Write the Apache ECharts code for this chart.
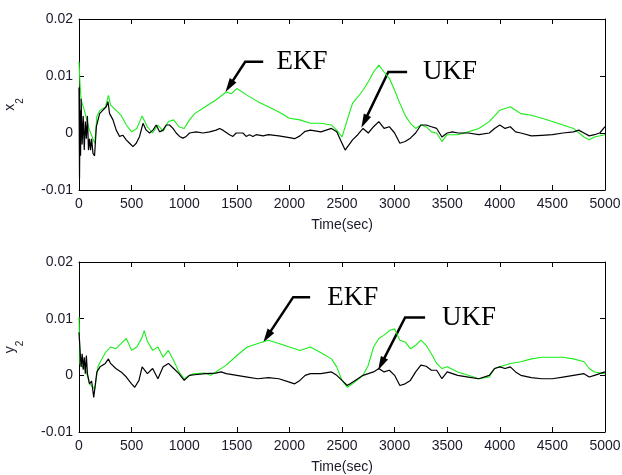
<!DOCTYPE html>
<html>
<head>
<meta charset="utf-8">
<script src="https://cdn.jsdelivr.net/npm/echarts@6/dist/echarts.min.js"></script>
<style>
  html, body { margin: 0; padding: 0; background: #fff; }
  #main { width: 622px; height: 475px; }
</style>
</head>
<body>
<div id="main"></div>
<script>
// 轴刻度
var timeTicks = { min: 0, max: 5000, interval: 500 };
var errTicks = { min: -0.01, max: 0.02, interval: 0.01 };

// x2 误差 [t, value]
var ekfX2 = [[0,0.0125],[10,0.0085],[20,0.0058],[50,0.0040],[100,0.0005],[150,-0.0018],[170,0.0030],[200,0.0040],[250,0.0045],[280,0.0066],
  [300,0.0049],[350,0.0040],[400,0.0031],[450,0.0014],[500,0.0002],[550,0.0008],[600,0.0030],[650,0.0011],[700,0.0000],[750,0.0014],
  [800,0.0003],[850,0.0020],[900,0.0023],[950,0.0011],[1000,0.0008],[1050,0.0023],[1100,0.0034],[1200,0.0046],[1300,0.0058],[1400,0.0072],
  [1450,0.0069],[1500,0.0078],[1600,0.0066],[1700,0.0055],[1800,0.0046],[1900,0.0037],[2000,0.0026],[2100,0.0023],[2200,0.0017],[2300,0.0017],
  [2400,0.0014],[2450,0.0005],[2500,-0.0007],[2550,0.0023],[2600,0.0052],[2700,0.0075],[2750,0.0090],[2800,0.0107],[2850,0.0119],[2900,0.0107],
  [2950,0.0096],[3000,0.0075],[3050,0.0052],[3100,0.0031],[3150,0.0017],[3200,0.0008],[3250,0.0014],[3300,0.0011],[3350,0.0002],[3400,0.0000],
  [3450,-0.0015],[3500,-0.0003],[3600,-0.0003],[3700,0.0002],[3800,0.0008],[3900,0.0020],[4000,0.0040],[4100,0.0046],[4150,0.0040],[4200,0.0034],
  [4300,0.0031],[4400,0.0026],[4500,0.0020],[4600,0.0014],[4700,0.0008],[4800,-0.0007],[4850,-0.0012],[4900,-0.0007],[5000,-0.0003]];

var ukfX2 = [[0,0.008],[5,-0.008],[10,0.004],[15,-0.004],[20,0.006],[30,-0.002],[40,0.003],[50,-0.003],[60,0.002],[70,-0.001],
  [80,0.003],[90,-0.003],[100,-0.001],[110,-0.003],[120,-0.001],[133,-0.0036],[148,-0.004],[165,0.0011],[196,0.0034],[228,0.004],
  [259,0.0046],[275,0.0055],[291,0.0034],[323,0.0023],[354,0.0005],[386,-0.0006],[418,-0.0004],[449,-0.0012],[481,-0.0018],[513,-0.0024],
  [544,-0.0018],[576,-0.0006],[608,0.0017],[639,0.0005],[671,0.0],[703,0.0005],[734,0.0014],[766,0.0002],[798,0.0005],[829,0.0014],
  [861,0.0014],[893,0.0008],[924,0.0],[956,-0.0006],[988,-0.0009],[1019,-0.0006],[1051,0.0],[1114,0.0002],[1178,0.0],[1241,0.0002],
  [1304,0.0005],[1336,0.0008],[1368,0.0005],[1431,-0.0003],[1463,-0.0006],[1494,0.0],[1558,0.0],[1589,-0.0006],[1621,-0.0003],[1653,-0.0006],
  [1684,-0.0003],[1750,-0.0005],[1800,-0.0003],[1900,-0.0005],[2000,-0.0008],[2050,-0.001],[2100,-0.0005],[2150,0.0003],[2200,0.0005],[2300,0.0002],
  [2400,0.0008],[2450,0.0002],[2500,-0.0018],[2530,-0.003],[2600,-0.0012],[2650,-0.0003],[2700,0.0008],[2750,0.0],[2800,0.0011],[2850,0.002],
  [2900,0.0008],[2950,0.0011],[3000,0.0],[3050,-0.0018],[3100,-0.0015],[3150,-0.0009],[3200,0.0],[3250,0.0014],[3300,0.0014],[3350,0.0011],
  [3400,0.0008],[3450,-0.0007],[3500,0.0],[3550,0.0002],[3600,0.0],[3700,0.0],[3800,-0.0003],[3900,0.0],[3950,0.0008],[4000,0.0014],
  [4050,0.0008],[4100,0.0011],[4150,0.0002],[4200,0.0],[4300,-0.0005],[4400,-0.0004],[4500,-0.0003],[4600,0.0],[4700,0.0002],[4750,0.0005],
  [4800,0.0],[4850,-0.0005],[4900,-0.0003],[4950,0.0],[5000,0.0011]];

// y2 误差 [t, value]
var ekfY2 = [[0,0.0103],[10,0.002],[30,0.0015],[60,0.0012],[100,-0.0015],[150,-0.0024],[180,0.0015],[200,0.0023],[250,0.004],[300,0.005],
  [350,0.0047],[400,0.0056],[450,0.0065],[500,0.0044],[550,0.005],[600,0.0067],[620,0.0079],[650,0.006],[700,0.0044],[750,0.005],
  [800,0.0032],[850,0.0044],[900,0.0026],[950,0.0006],[1000,-0.0006],[1050,0.0],[1100,0.0003],[1200,0.0004],[1250,0.0],[1300,0.0006],
  [1400,0.0018],[1500,0.0035],[1600,0.005],[1700,0.0056],[1800,0.0062],[1900,0.0056],[2000,0.005],[2100,0.0044],[2200,0.005],[2300,0.004],
  [2400,0.0029],[2450,0.0015],[2500,-0.0009],[2550,-0.0021],[2600,-0.0015],[2700,0.0],[2750,0.0018],[2800,0.005],[2850,0.0065],[2900,0.0071],
  [2950,0.0079],[3000,0.0082],[3050,0.0062],[3100,0.0059],[3150,0.0047],[3200,0.0053],[3250,0.0062],[3300,0.0053],[3350,0.0038],[3400,0.0021],
  [3450,0.0012],[3500,0.0015],[3600,0.0006],[3700,0.0],[3800,-0.0006],[3900,-0.0003],[3950,0.0012],[4000,0.0015],[4100,0.0021],[4200,0.0024],
  [4300,0.0029],[4400,0.0032],[4500,0.0032],[4600,0.0032],[4700,0.0029],[4800,0.0024],[4850,0.0012],[4900,0.0006],[5000,0.0003]];

var ukfY2 = [[0,0.0076],[10,0.0044],[20,0.0015],[30,0.0038],[40,0.001],[50,0.0032],[60,0.0003],[70,0.0035],[80,0.0003],[100,-0.0015],
  [120,-0.001],[140,-0.0039],[150,-0.0024],[170,0.0006],[200,0.0015],[250,0.0021],[280,0.0029],[300,0.0021],[350,0.0012],[400,0.0006],
  [450,-0.0003],[500,-0.0015],[530,-0.0021],[570,-0.0009],[600,0.0015],[650,0.0003],[700,0.0012],[750,-0.0006],[800,0.0015],[850,0.0021],
  [900,0.0012],[950,0.0003],[1000,-0.0009],[1050,0.0],[1100,0.0001],[1200,0.0003],[1300,0.0004],[1350,0.0006],[1400,0.0003],[1500,0.0],
  [1600,-0.0003],[1700,-0.0006],[1800,-0.0004],[1900,-0.0006],[2000,-0.0012],[2050,-0.0015],[2100,-0.0009],[2150,0.0],[2200,0.0003],[2300,0.0003],
  [2400,0.0006],[2450,0.0],[2500,-0.0009],[2550,-0.0018],[2600,-0.0012],[2700,0.0],[2750,0.0003],[2800,0.0006],[2850,0.0012],[2900,0.0006],
  [2950,0.0009],[3000,0.0],[3050,-0.0018],[3100,-0.0015],[3150,-0.0009],[3200,0.0006],[3250,0.0018],[3300,0.0016],[3350,0.0009],[3400,0.0009],
  [3450,-0.0006],[3500,0.0006],[3550,0.0003],[3600,0.0],[3700,-0.0003],[3800,-0.0006],[3900,0.0],[3950,0.0012],[4000,0.0015],[4050,0.0012],
  [4100,0.0015],[4150,0.0006],[4200,0.0],[4300,-0.0004],[4400,-0.0006],[4500,-0.0006],[4600,-0.0003],[4700,0.0],[4800,0.0003],[4850,-0.0003],
  [4900,0.0],[5000,0.0006]];

// 箭头标注: 箭头尖, 拐点, 横线终点, 文字位置 (数据坐标)
var notes = [
  { grid: 0, text: 'EKF', tip: [1392, 0.0072], elbow: [1580, 0.0125], end: [1751, 0.0125], label: [1877, 0.0125] },
  { grid: 0, text: 'UKF', tip: [2684, 0.0009], elbow: [2940, 0.0107], end: [3119, 0.0107], label: [3271, 0.0107] },
  { grid: 1, text: 'EKF', tip: [1751, 0.0058], elbow: [2036, 0.0138], end: [2197, 0.0138], label: [2359, 0.0136] },
  { grid: 1, text: 'UKF', tip: [2843, 0.0009], elbow: [3100, 0.0102], end: [3290, 0.0102], label: [3451, 0.0101] }
];

var axisFont = 'Arial, "Liberation Sans", sans-serif';
var textColor = '#1a1a2a';

function timeAxis(gridIndex, top){
    var ax = {
        type: 'value', gridIndex: gridIndex,
        min: timeTicks.min, max: timeTicks.max, interval: timeTicks.interval,
        position: top ? 'top' : 'bottom',
        axisLine: { show: true, onZero: false, lineStyle: { color: '#000', width: 1 } },
        axisTick: { show: true, inside: true, length: 5, lineStyle: { color: '#000' } },
        axisLabel: {
            show: !top, margin: 7, color: textColor, fontSize: 14, fontFamily: axisFont,
            formatter: function(v){ return String(v); }
        },
        splitLine: { show: false }
    };
    if(!top){
        ax.name = 'Time(sec)';
        ax.nameLocation = 'middle';
        ax.nameGap = 28;
        ax.nameTextStyle = { color: textColor, fontSize: 14, fontFamily: axisFont };
    }
    return ax;
}

function errAxis(gridIndex, right, sym){
    var ax = {
        type: 'value', gridIndex: gridIndex,
        min: errTicks.min, max: errTicks.max, interval: errTicks.interval,
        position: right ? 'right' : 'left',
        axisLine: { show: true, onZero: false, lineStyle: { color: '#000', width: 1 } },
        axisTick: { show: true, inside: true, length: 5, lineStyle: { color: '#000' } },
        axisLabel: {
            show: !right, margin: 6, color: textColor, fontSize: 14, fontFamily: axisFont,
            formatter: function(v){ return String(Math.round(v * 1000) / 1000); }
        },
        splitLine: { show: false }
    };
    if(!right){
        ax.name = '{a|' + sym + '}{s|2}';
        ax.nameLocation = 'middle';
        ax.nameGap = 54;
        ax.nameTextStyle = {
            color: textColor, fontFamily: axisFont,
            rich: {
                a: { fontSize: 14, color: textColor, fontFamily: axisFont, verticalAlign: 'top', lineHeight: 16 },
                s: { fontSize: 10, color: textColor, fontFamily: axisFont, verticalAlign: 'bottom', lineHeight: 22 }
            }
        };
    }
    return ax;
}

function lineSeries(name, data, xi, yi, color, width){
    return {
        name: name, type: 'line', data: data,
        xAxisIndex: xi, yAxisIndex: yi,
        showSymbol: false, symbol: 'none', animation: false,
        lineStyle: { color: color, width: width }
    };
}

var chart = echarts.init(document.getElementById('main'), null, { renderer: 'canvas' });
chart.setOption({
    backgroundColor: '#fff',
    animation: false,
    grid: [
        { left: 79, right: 17, top: 19, height: 171, outerBoundsMode: 'none', containLabel: false },
        { left: 79, right: 17, top: 262, height: 170, outerBoundsMode: 'none', containLabel: false }
    ],
    xAxis: [timeAxis(0, false), timeAxis(0, true), timeAxis(1, false), timeAxis(1, true)],
    yAxis: [errAxis(0, false, 'x'), errAxis(0, true), errAxis(1, false, 'y'), errAxis(1, true)],
    series: [
        lineSeries('EKF', ekfX2, 0, 0, '#1aee1a', 1.1),
        lineSeries('UKF', ukfX2, 0, 0, '#000', 1.2),
        lineSeries('EKF', ekfY2, 2, 2, '#1aee1a', 1.1),
        lineSeries('UKF', ukfY2, 2, 2, '#000', 1.2)
    ]
});

// 画箭头和文字
function buildNotes(){
    var items = [];
    notes.forEach(function(n){
        var xi = n.grid * 2, yi = n.grid * 2;
        var toPx = function(p){ return chart.convertToPixel({ xAxisIndex: xi, yAxisIndex: yi }, p); };
        var tip = toPx(n.tip), elbow = toPx(n.elbow), end = toPx(n.end), lab = toPx(n.label);
        var dx = tip[0] - elbow[0], dy = tip[1] - elbow[1];
        var len = Math.sqrt(dx * dx + dy * dy);
        var ux = dx / len, uy = dy / len;
        var hl = 14, hw = 4;
        var bx = tip[0] - ux * hl, by = tip[1] - uy * hl;
        items.push({
            type: 'polyline', silent: true,
            shape: { points: [end, elbow, [bx + ux * 4, by + uy * 4]] },
            style: { stroke: '#000', lineWidth: 2.5, fill: null }
        });
        items.push({
            type: 'polygon', silent: true,
            shape: { points: [tip, [bx - uy * hw, by + ux * hw], [bx + uy * hw, by - ux * hw]] },
            style: { fill: '#000' }
        });
        items.push({
            type: 'text', silent: true,
            x: lab[0], y: lab[1],
            style: {
                text: n.text, fill: '#000',
                font: '27px "Liberation Serif", "Times New Roman", serif',
                textAlign: 'left', textVerticalAlign: 'middle'
            }
        });
    });
    chart.setOption({ graphic: items });
}
buildNotes();
</script>
</body>
</html>
